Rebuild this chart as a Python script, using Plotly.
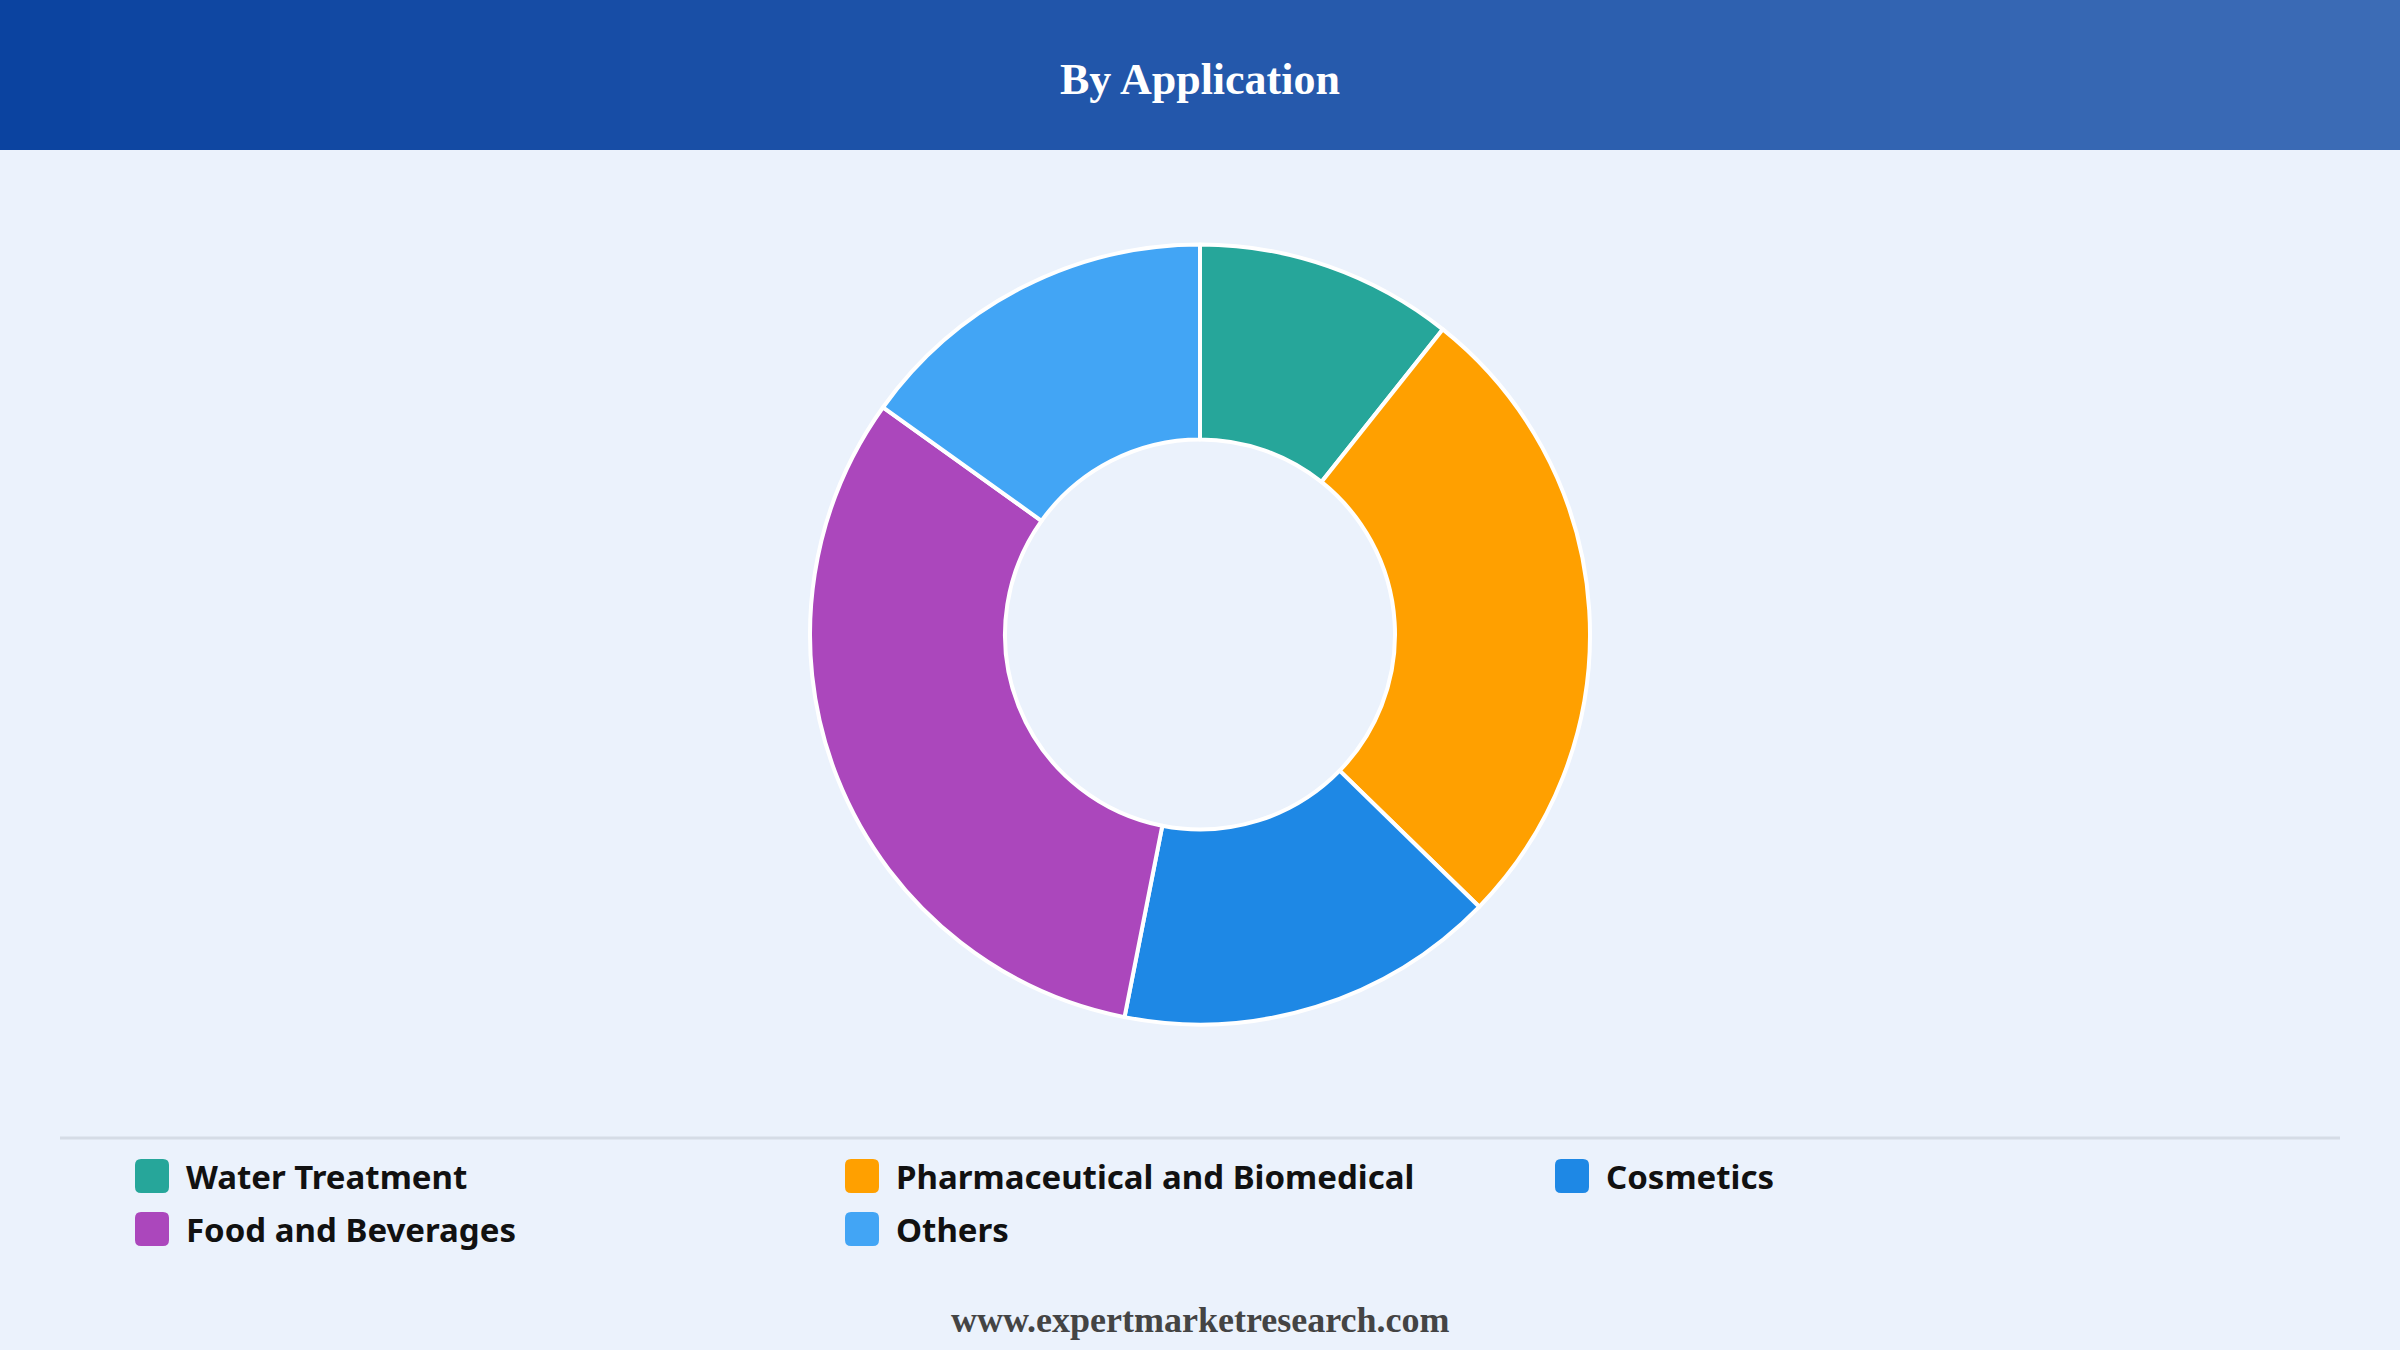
import plotly.graph_objects as go

# slice data (percent share)
labels = ["Water Treatment", "Pharmaceutical and Biomedical", "Cosmetics", "Food and Beverages", "Others"]
values = [10.7, 26.6, 15.8, 31.8, 15.1]
colors = ["#26A69A", "#FFA000", "#1E88E5", "#AB47BC", "#42A5F5"]

W, H = 2400, 1350

fig = go.Figure()
fig.add_trace(go.Pie(labels=labels, values=values, hole=0.5, sort=False, direction="clockwise",
                     rotation=0, textinfo="none", hoverinfo="label+percent", showlegend=False,
                     marker=dict(colors=colors, line=dict(color="white", width=4)),
                     domain=dict(x=[0.3375, 0.6625], y=[0.241, 0.819])))

# header band gradient
shapes = []
n = 80
c0 = (11, 67, 160)
c1 = (60, 108, 182)
for i in range(n):
    t = i / (n - 1)
    col = "rgb(%d,%d,%d)" % tuple(round(a + (b - a) * t) for a, b in zip(c0, c1))
    shapes.append(dict(type="rect", xref="paper", yref="paper", x0=i / n, x1=(i + 1) / n + 0.001,
                       y0=1 - 150 / H, y1=1, fillcolor=col, line=dict(width=0), layer="below"))
# separator above legend
shapes.append(dict(type="line", xref="paper", yref="paper", x0=60 / W, x1=2340 / W,
                   y0=1 - 1138 / H, y1=1 - 1138 / H, line=dict(color="#D5DCE6", width=3)))

annotations = [
    dict(text="<b>By Application</b>", xref="paper", yref="paper", x=0.5, y=1 - 80 / H,
         yanchor="middle", showarrow=False, font=dict(family="Liberation Serif", size=44, color="white")),
    dict(text="<b>www.expertmarketresearch.com</b>", xref="paper", yref="paper", x=0.5, y=1 - 1320 / H,
         yanchor="middle", showarrow=False, font=dict(family="Liberation Serif", size=36, color="#444444")),
]

# legend drawn by hand: 3 columns, rounded square swatches
col_x = [135, 845, 1555]
row_y = [1176, 1229]
s = 34
r = 6
for i, (lab, col) in enumerate(zip(labels, colors)):
    x0 = col_x[i % 3]
    yc = row_y[i // 3]
    x1 = x0 + s
    y0 = H - (yc + s / 2)
    y1 = H - (yc - s / 2)
    path = (f"M{x0+r},{y0} L{x1-r},{y0} Q{x1},{y0} {x1},{y0+r} L{x1},{y1-r} Q{x1},{y1} {x1-r},{y1} "
            f"L{x0+r},{y1} Q{x0},{y1} {x0},{y1-r} L{x0},{y0+r} Q{x0},{y0} {x0+r},{y0} Z")
    shapes.append(dict(type="path", xref="x", yref="y", path=path, fillcolor=col, line=dict(width=0)))
    annotations.append(dict(text="<b>" + lab + "</b>", xref="x", yref="y", x=x1 + 15, y=H - yc,
                            xanchor="left", yanchor="middle", showarrow=False,
                            font=dict(family="Noto Sans", size=33, color="#111111")))

fig.update_layout(
    width=W, height=H, margin=dict(l=0, r=0, t=0, b=0),
    paper_bgcolor="#EBF2FC", plot_bgcolor="rgba(0,0,0,0)",
    xaxis=dict(visible=False, range=[0, W], fixedrange=True),
    yaxis=dict(visible=False, range=[0, H], fixedrange=True),
    shapes=shapes, annotations=annotations, showlegend=False,
)

fig.write_html("out.html", config={"displayModeBar": False},
               post_script="document.body.style.margin='0';")
